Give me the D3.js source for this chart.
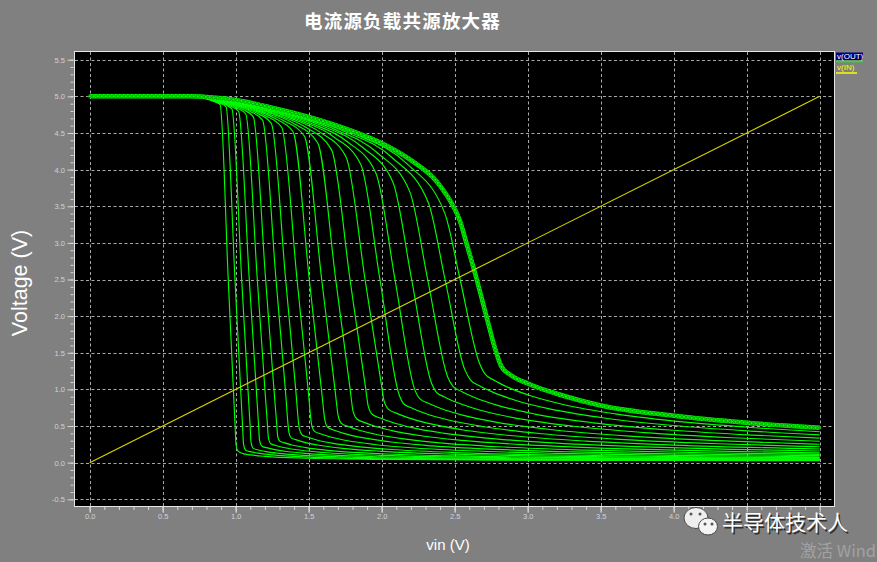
<!DOCTYPE html>
<html><head><meta charset="utf-8">
<script src="https://cdn.jsdelivr.net/npm/d3@7/dist/d3.min.js"></script>
<style>
html,body{margin:0;padding:0;background:#808080;}
svg{display:block;}
</style></head><body>
<svg id="chart" width="877" height="562"></svg>
<script>
// ---------------- data ----------------
const chartTitle = "电流源负载共源放大器";
const xLabel = "vin (V)";
const yLabel = "Voltage (V)";
const legendNames = ["v(OUT)", "v(IN)"];

const xTicks = [0, 0.5, 1, 1.5, 2, 2.5, 3, 3.5, 4, 4.5, 5];
// labels visible in the picture (4.5 and 5.0 are covered by the watermark)
const xTickLabels = ["0.0","0.5","1.0","1.5","2.0","2.5","3.0","3.5","4.0"];
const yTicks = [-0.5, 0, 0.5, 1, 1.5, 2, 2.5, 3, 3.5, 4, 4.5, 5, 5.5];
const yTickLabels = ["-0.5","0.0","0.5","1.0","1.5","2.0","2.5","3.0","3.5","4.0","4.5","5.0","5.5"];

// v(IN): [vin, V]
const vIn = [[0, 0], [5, 5]];

// v(OUT) family: [vin, V]
const vout1 = [[0,5],[0.7,5],[0.8,4.965],[0.85,4.93],[0.893,4.889],[0.949,2.5],[0.984,1.0],[0.996,0.5],[1.002,0.25],[1.015,0.16],[1.05,0.124],[1.1,0.107],[1.2,0.086],[1.5,0.06],[2.0,0.044],[3.0,0.034],[4.0,0.029],[5.0,0.027]];
const vout2 = [[0,5],[0.7,5],[0.8,4.968],[0.86,4.932],[0.9,4.899],[0.934,4.857],[0.995,2.5],[1.034,1.0],[1.047,0.5],[1.054,0.25],[1.07,0.167],[1.1,0.15],[1.15,0.13],[1.25,0.106],[1.5,0.076],[2.0,0.054],[3.0,0.039],[4.0,0.033],[5.0,0.03]];
const vout3 = [[0,5],[0.7,5],[0.8,4.971],[0.87,4.932],[0.93,4.884],[0.974,4.829],[1.041,2.5],[1.084,1.0],[1.099,0.5],[1.105,0.28],[1.12,0.195],[1.15,0.176],[1.2,0.154],[1.3,0.126],[1.5,0.096],[2.0,0.066],[3.0,0.045],[4.0,0.038],[5.0,0.034]];
const vout4 = [[0,5],[0.7,5],[0.82,4.964],[0.9,4.918],[0.97,4.861],[1.02,4.795],[1.093,2.5],[1.141,1.0],[1.157,0.5],[1.163,0.31],[1.18,0.224],[1.21,0.205],[1.26,0.181],[1.35,0.152],[1.5,0.123],[2.0,0.081],[3.0,0.054],[4.0,0.043],[5.0,0.038]];
const vout5 = [[0,5],[0.7,5],[0.85,4.952],[0.94,4.898],[1.01,4.839],[1.069,4.759],[1.148,2.5],[1.2,1.0],[1.218,0.5],[1.224,0.34],[1.24,0.259],[1.27,0.238],[1.32,0.211],[1.42,0.176],[1.6,0.139],[2.0,0.1],[3.0,0.064],[4.0,0.051],[5.0,0.043]];
const vout6 = [[0,5],[0.7,5],[0.87,4.946],[0.97,4.886],[1.05,4.819],[1.12,4.722],[1.205,2.5],[1.262,1.0],[1.282,0.5],[1.287,0.37],[1.3,0.296],[1.33,0.273],[1.38,0.245],[1.48,0.206],[1.65,0.165],[2.0,0.122],[2.5,0.092],[3.0,0.076],[4.0,0.059],[5.0,0.05]];
const vout7 = [[0,5],[0.7,5],[0.9,4.935],[1.01,4.869],[1.1,4.793],[1.184,4.675],[1.276,2.5],[1.34,1.0],[1.365,0.41],[1.38,0.339],[1.41,0.315],[1.46,0.284],[1.56,0.241],[1.75,0.192],[2.0,0.155],[2.5,0.115],[3.0,0.093],[4.0,0.071],[5.0,0.059]];
const vout8 = [[0,5],[0.7,5],[0.92,4.929],[1.04,4.857],[1.14,4.775],[1.244,4.631],[1.342,2.5],[1.411,1.0],[1.436,0.46],[1.455,0.378],[1.49,0.35],[1.55,0.313],[1.65,0.27],[1.85,0.216],[2.1,0.176],[2.5,0.138],[3.0,0.111],[4.0,0.083],[5.0,0.068]];
const vout9 = [[0,5],[0.7,5],[0.95,4.919],[1.08,4.841],[1.2,4.74],[1.315,4.578],[1.42,2.5],[1.496,1.0],[1.52,0.52],[1.54,0.427],[1.58,0.394],[1.65,0.35],[1.76,0.302],[1.95,0.248],[2.2,0.204],[2.6,0.162],[3.2,0.126],[4.0,0.1],[5.0,0.081]];
const vout10 = [[0,5],[0.7,5],[0.98,4.909],[1.13,4.818],[1.26,4.707],[1.392,4.52],[1.504,2.5],[1.587,1.0],[1.611,0.58],[1.63,0.483],[1.67,0.447],[1.74,0.4],[1.85,0.348],[2.05,0.286],[2.3,0.237],[2.7,0.189],[3.3,0.147],[4.0,0.119],[5.0,0.096]];
const vout11 = [[0,5],[0.7,5],[1.0,4.905],[1.18,4.795],[1.32,4.676],[1.47,4.458],[1.589,2.5],[1.68,1.0],[1.702,0.64],[1.725,0.535],[1.77,0.495],[1.84,0.446],[1.95,0.391],[2.15,0.324],[2.4,0.271],[2.8,0.217],[3.4,0.171],[4.2,0.135],[5.0,0.113]];
const vout12 = [[0,5],[0.7,5],[1.05,4.886],[1.24,4.768],[1.4,4.626],[1.562,4.363],[1.685,2.5],[1.784,1.0],[1.804,0.7],[1.83,0.596],[1.88,0.55],[1.95,0.5],[2.07,0.438],[2.27,0.367],[2.55,0.304],[3.0,0.242],[3.6,0.192],[4.3,0.157],[5.0,0.134]];
const vout13 = [[0,5],[0.7,5],[1.1,4.867],[1.3,4.739],[1.48,4.578],[1.656,4.273],[1.783,2.5],[1.891,1.0],[1.907,0.78],[1.935,0.661],[1.99,0.609],[2.07,0.551],[2.2,0.482],[2.42,0.404],[2.7,0.339],[3.2,0.267],[3.8,0.215],[4.4,0.182],[5.0,0.159]];
const vout14 = [[0,5],[0.7,5],[1.15,4.848],[1.38,4.699],[1.58,4.508],[1.756,4.171],[1.886,2.5],[2.003,1.0],[2.014,0.86],[2.045,0.731],[2.1,0.676],[2.18,0.615],[2.32,0.536],[2.55,0.45],[2.9,0.367],[3.4,0.294],[4.0,0.24],[5.0,0.187]];
const vout15 = [[0,5],[0.7,5],[1.2,4.828],[1.45,4.663],[1.67,4.449],[1.857,4.069],[1.988,2.5],[2.119,0.93],[2.15,0.804],[2.21,0.742],[2.3,0.671],[2.45,0.585],[2.7,0.49],[3.1,0.395],[3.6,0.322],[4.3,0.258],[5.0,0.217]];
const vout16 = [[0,5],[0.7,5],[1.25,4.811],[1.52,4.629],[1.76,4.387],[1.96,3.955],[2.091,2.5],[2.226,1.0],[2.26,0.874],[2.32,0.81],[2.41,0.735],[2.56,0.645],[2.8,0.547],[3.2,0.443],[3.7,0.362],[4.3,0.3],[5.0,0.251]];
const vout17 = [[0,5],[0.7,5],[1.3,4.792],[1.6,4.591],[1.87,4.302],[2.077,3.828],[2.205,2.5],[2.342,1.08],[2.375,0.96],[2.43,0.897],[2.52,0.817],[2.67,0.719],[2.9,0.615],[3.3,0.5],[3.8,0.41],[4.4,0.34],[5.0,0.292]];
const vout18 = [[0,5],[0.7,5],[1.35,4.774],[1.68,4.549],[1.97,4.23],[2.192,3.699],[2.315,2.5],[2.452,1.17],[2.49,1.038],[2.55,0.968],[2.64,0.885],[2.8,0.778],[3.05,0.663],[3.45,0.544],[4.0,0.442],[4.5,0.38],[5.0,0.335]];
const vout19 = [[0,5],[0.7,5],[1.4,4.756],[1.75,4.517],[2.07,4.165],[2.319,3.551],[2.434,2.5],[2.569,1.27],[2.61,1.124],[2.67,1.05],[2.76,0.963],[2.92,0.849],[3.15,0.734],[3.5,0.617],[4.0,0.507],[4.5,0.434],[5.0,0.38]];
const vout20 = [[0,5],[0.7,5],[1.45,4.736],[1.83,4.475],[2.17,4.085],[2.433,3.399],[2.537,2.5],[2.669,1.36],[2.71,1.204],[2.77,1.126],[2.86,1.034],[3.02,0.913],[3.25,0.791],[3.6,0.666],[4.1,0.549],[4.55,0.477],[5.0,0.422]];
// last sweep (drawn with markers)
const vout21 = [[0,5],[0.7,5],[0.86,4.98],[1.0,4.95],[1.24,4.85],[1.5,4.72],[1.78,4.54],[2.0,4.36],[2.2,4.13],[2.38,3.83],[2.49,3.5],[2.536,3.3],[2.58,3.0],[2.651,2.5],[2.73,1.9],[2.776,1.56],[2.82,1.31],[2.88,1.2],[3.0,1.08],[3.25,0.91],[3.5,0.78],[4.0,0.64],[4.5,0.545],[5.0,0.475]];

const voutFamily = [vout1,vout2,vout3,vout4,vout5,vout6,vout7,vout8,vout9,vout10,
  vout11,vout12,vout13,vout14,vout15,vout16,vout17,vout18,vout19,vout20];

// ---------------- drawing ----------------
const W = 877, H = 562;
const svg = d3.select("#chart");
const plotL = 75, plotT = 52, plotR = 834, plotB = 506;

const x = d3.scaleLinear().domain([0, 5]).range([89.7, 819.7]);
const y = d3.scaleLinear().domain([-0.5, 5.5]).range([499.3, 59.7]);

svg.append("rect").attr("width", W).attr("height", H).attr("fill", "#808080");

// title
svg.append("text")
  .attr("x", 402.5).attr("y", 28)
  .attr("text-anchor", "middle")
  .attr("fill", "#ffffff")
  .attr("font-family", "'Noto Sans CJK SC', sans-serif")
  .attr("font-weight", "bold")
  .attr("font-size", 18.5)
  .attr("letter-spacing", 1.2)
  .text(chartTitle);

// plot area
svg.append("rect").attr("x", plotL).attr("y", plotT)
  .attr("width", plotR - plotL).attr("height", plotB - plotT).attr("fill", "#000");

svg.append("clipPath").attr("id", "clip").append("rect")
  .attr("x", plotL).attr("y", plotT).attr("width", plotR - plotL).attr("height", plotB - plotT);

// grid
const grid = svg.append("g")
  .attr("stroke", "#a8a8a8").attr("stroke-width", 1).attr("stroke-dasharray", "3,2.5");
grid.selectAll("line.gv").data(xTicks).join("line").attr("class", "gv")
  .attr("x1", d => Math.round(x(d)) + 0.5).attr("x2", d => Math.round(x(d)) + 0.5)
  .attr("y1", plotT).attr("y2", plotB);
grid.selectAll("line.gh").data(yTicks).join("line").attr("class", "gh")
  .attr("y1", d => Math.round(y(d)) + 0.5).attr("y2", d => Math.round(y(d)) + 0.5)
  .attr("x1", plotL).attr("x2", plotR);

// frame
svg.append("rect").attr("x", plotL - 0.5).attr("y", plotT - 0.5)
  .attr("width", plotR - plotL + 1).attr("height", plotB - plotT + 1)
  .attr("fill", "none").attr("stroke", "#e6e6e6").attr("stroke-width", 1);

// axes
const minorY = d3.range(-5, 56).map(i => i / 10);
const minorX = d3.range(0, 51).map(i => i / 10);
const tickColor = "#d4d4d4";
const labelColor = "#d0d2da";

function styleAxis(g) {
  g.select(".domain").remove();
  g.selectAll(".tick line").attr("stroke", tickColor);
  g.selectAll(".tick text").attr("fill", labelColor)
    .attr("font-family", "'Liberation Sans', Arial, sans-serif").attr("font-size", 7.5);
}
svg.append("g").attr("transform", "translate(73.5,0)")
  .call(d3.axisLeft(y).tickValues(minorY).tickSize(3).tickFormat(""))
  .call(styleAxis);
svg.append("g").attr("transform", "translate(73.5,0)")
  .call(d3.axisLeft(y).tickValues(yTicks).tickSize(6).tickPadding(2.5)
    .tickFormat((d, i) => yTickLabels[i]))
  .call(styleAxis);
svg.append("g").attr("transform", `translate(0,${plotB + 1})`)
  .call(d3.axisBottom(x).tickValues(minorX).tickSize(3).tickFormat(""))
  .call(styleAxis);
svg.append("g").attr("transform", `translate(0,${plotB + 1})`)
  .call(d3.axisBottom(x).tickValues(xTicks).tickSize(5.5).tickFormat(""))
  .call(styleAxis);
svg.append("g").attr("transform", `translate(0,${plotB + 1})`)
  .call(d3.axisBottom(x).tickValues(xTicks.slice(0, xTickLabels.length)).tickSize(5.5).tickPadding(1.5)
    .tickFormat((d, i) => xTickLabels[i]))
  .call(styleAxis);

// curves
const line = d3.line().x(d => x(d[0])).y(d => y(d[1])).curve(d3.curveMonotoneX);
const plotG = svg.append("g").attr("clip-path", "url(#clip)");

plotG.selectAll("path.vout").data(voutFamily).join("path").attr("class", "vout")
  .attr("d", line).attr("fill", "none")
  .attr("stroke", "#00ff00").attr("stroke-width", 1.15);

const env = plotG.append("path").attr("d", line(vout21)).attr("fill", "none")
  .attr("stroke", "#00ff00").attr("stroke-width", 4.5);
// markers along the last sweep
const envNode = env.node();
const envLen = envNode.getTotalLength();
const markPts = d3.range(0, envLen, 4).map(l => envNode.getPointAtLength(l));
plotG.append("g").selectAll("circle").data(markPts).join("circle")
  .attr("cx", p => p.x).attr("cy", p => p.y).attr("r", 1.6)
  .attr("fill", "none").attr("stroke", "#008c00").attr("stroke-width", 0.8);

// v(IN)
plotG.append("path").attr("d", d3.line().x(d => x(d[0])).y(d => y(d[1]))(vIn))
  .attr("fill", "none").attr("stroke", "#d8d800").attr("stroke-width", 1.1);

// legend
svg.append("rect").attr("x", 836).attr("y", 52.5).attr("width", 27).attr("height", 7.5).attr("fill", "#000080");
svg.append("text").attr("x", 837).attr("y", 59).attr("fill", "#ffffff")
  .attr("font-family", "'Liberation Sans', Arial, sans-serif").attr("font-size", 8).text(legendNames[0]);
svg.append("line").attr("x1", 836).attr("x2", 863).attr("y1", 61.5).attr("y2", 61.5)
  .attr("stroke", "#00ff00").attr("stroke-width", 1.5);
svg.append("text").attr("x", 837).attr("y", 70).attr("fill", "#ffff00")
  .attr("font-family", "'Liberation Sans', Arial, sans-serif").attr("font-size", 8).text(legendNames[1]);
svg.append("line").attr("x1", 836).attr("x2", 857).attr("y1", 73).attr("y2", 73)
  .attr("stroke", "#ffff00").attr("stroke-width", 1.5);

// axis titles
svg.append("text").attr("transform", "translate(27,283) rotate(-90)")
  .attr("text-anchor", "middle").attr("fill", "#ffffff")
  .attr("font-family", "'Liberation Sans', Arial, sans-serif").attr("font-size", 21.5)
  .text(yLabel);
svg.append("text").attr("x", 448).attr("y", 550)
  .attr("text-anchor", "middle").attr("fill", "#ffffff")
  .attr("font-family", "'Liberation Sans', Arial, sans-serif").attr("font-size", 15)
  .text(xLabel);

// watermark
const wm = svg.append("g");
wm.append("ellipse").attr("cx", 696).attr("cy", 518).attr("rx", 12).attr("ry", 10.5)
  .attr("fill", "#eeeeee").attr("stroke", "#4a4a4a").attr("stroke-width", 1);
wm.append("ellipse").attr("cx", 708).attr("cy", 526.5).attr("rx", 9.5).attr("ry", 8.5)
  .attr("fill", "#f4f4f4").attr("stroke", "#4a4a4a").attr("stroke-width", 1);
[[691, 514], [700, 514], [705, 524], [712, 524]].forEach(p => {
  wm.append("circle").attr("cx", p[0]).attr("cy", p[1]).attr("r", 1.5).attr("fill", "#555");
});
wm.append("text").attr("x", 723.5).attr("y", 531.5).attr("fill", "#303030")
  .attr("font-family", "'Noto Sans CJK SC', sans-serif").attr("font-size", 21).text("半导体技术人");
wm.append("text").attr("x", 722).attr("y", 530).attr("fill", "#ffffff")
  .attr("font-family", "'Noto Sans CJK SC', sans-serif").attr("font-size", 21).text("半导体技术人");
svg.append("text").attr("x", 876).attr("y", 557).attr("text-anchor", "end").attr("fill", "#a2a2a2")
  .attr("font-family", "'Noto Sans CJK SC', sans-serif").attr("font-size", 16.5).text("激活 Wind");
</script>
</body></html>
